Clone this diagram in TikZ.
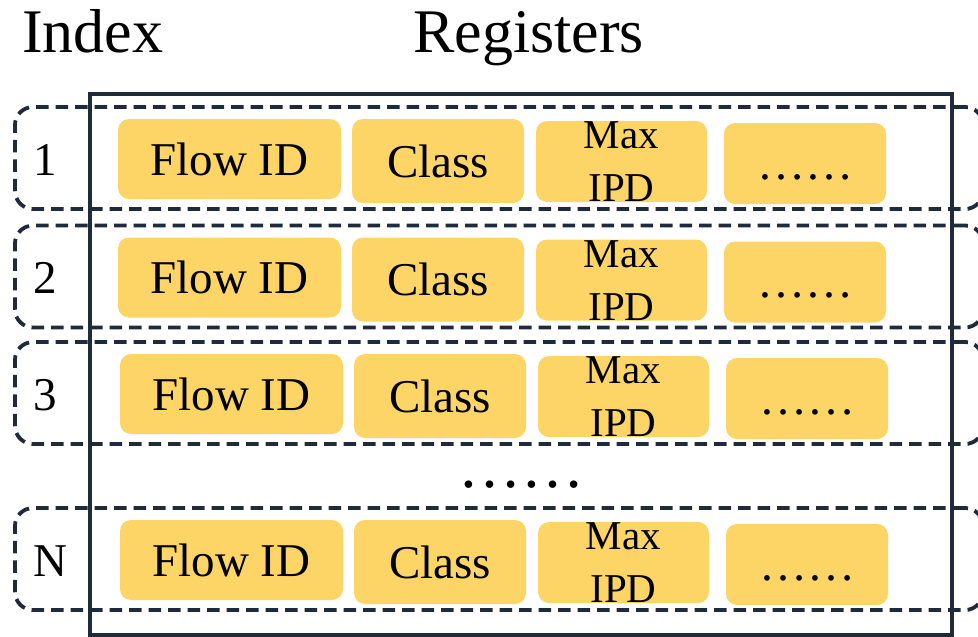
\documentclass[tikz,border=0pt]{standalone}
\usepackage{fontspec}
\setmainfont{Liberation Serif}
\definecolor{cell}{HTML}{FDD567}
\definecolor{navy}{HTML}{1F2B3B}
\begin{document}
\begin{tikzpicture}[x=1pt,y=-1pt,
  cellbox/.style={fill=cell, rounded corners=11pt, inner sep=0pt, font=\fontsize{47}{47}\selectfont},
  ipdbox/.style={fill=cell, rounded corners=11pt, inner sep=0pt, align=center, font=\fontsize{41}{53}\selectfont},
  rowbox/.style={draw=navy, line width=3.8pt, dash pattern=on 12.5pt off 7pt, rounded corners=18pt, inner sep=0pt},
  regbox/.style={draw=navy, line width=3.8pt, inner sep=0pt},
  idxtext/.style={anchor=base west, inner sep=0pt, font=\fontsize{47}{47}\selectfont},
  headtext/.style={anchor=base west, inner sep=0pt, font=\fontsize{62}{62}\selectfont},
  dotstext/.style={anchor=base, inner sep=0pt, font=\fontsize{48}{48}\selectfont}]
\useasboundingbox (0,0) rectangle (978,637);
\clip (0,0) rectangle (978,637);
\node[headtext] (hidx) at (22,52) {Index};
\node[headtext] (hreg) at (413,52) {Registers};
\foreach \c/\dx/\lab/\n in {158/0/1/a, 276.5/0/2/b, 393/2/3/c, 559/2/N/d}{
  \node[cellbox, minimum width=223pt, minimum height=80pt] (flow\n) at (229.5+\dx, \c+1) {Flow ID};
  \node[cellbox, minimum width=172pt, minimum height=84pt] (class\n) at (438+\dx, \c+3) {Class};
  \node[ipdbox, minimum width=171pt, minimum height=81pt] (ipd\n) at (621.5+\dx, \c+3.5) {};
  \node[ipdbox] (ipdt\n) at (621.5+\dx, \c+4) {Max\\IPD};
  \node[cellbox, minimum width=162pt, minimum height=81pt] (more\n) at (805+\dx, \c+5.5) {};
  \node[dotstext] (moret\n) at (805+\dx, \c+21) {……};
  \node[rowbox, minimum width=968pt, minimum height=102pt] (row\n) at (499, \c) {};
  \node[idxtext] (idx\n) at (33, \c+17) {\lab};
}
\node[anchor=base, inner sep=0pt, font=\fontsize{63}{63}\selectfont] (vdots) at (521,487) {……};
\node[regbox, minimum width=862pt, minimum height=541pt] (regs) at (521,364.5) {};
\end{tikzpicture}
\end{document}
